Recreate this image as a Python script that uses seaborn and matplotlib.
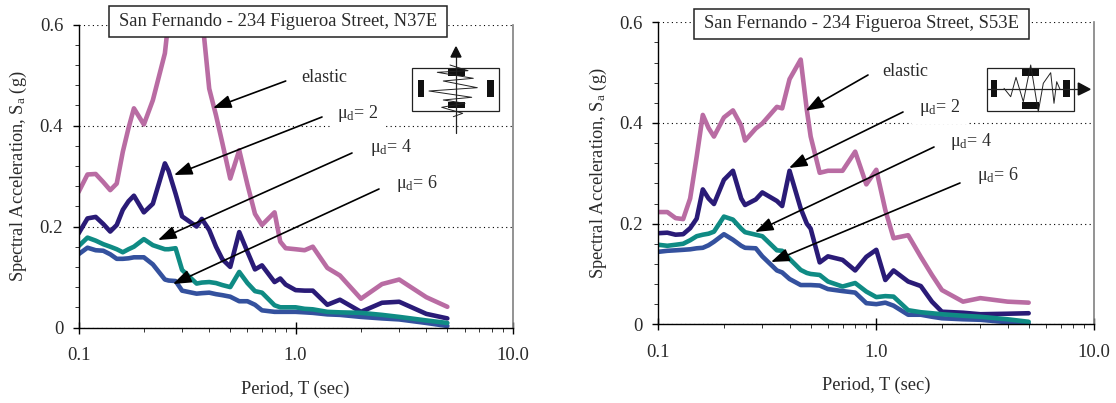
import pandas as pd
import seaborn as sns
import matplotlib.pyplot as plt
from matplotlib.patches import Rectangle
from matplotlib.ticker import FixedLocator, NullFormatter

W, H = 1116, 403

# Values
periods_n37e = [0.1, 0.11, 0.12, 0.13, 0.14, 0.15, 0.16, 0.17, 0.18, 0.2, 0.22, 0.25, 0.26, 0.28, 0.3, 0.35, 0.37,
                0.4, 0.43, 0.46, 0.5, 0.55, 0.6, 0.65, 0.7, 0.8, 0.85, 0.9, 1.0, 1.1, 1.2, 1.4, 1.6, 2.0, 2.5, 3.0, 4.0, 5.0]
elastic_n37e = [.268, .303, .304, .288, .272, .285, .348, .395, .434, .402, .45, .543, .61, .72, .76, .75, .62,
                .473, .42, .365, .295, .351, .283, .225, .203, .228, .17, .157, .155, .153, .16, .118, .103, .057, .086, .095, .06, .041]
mu2_n37e = [.186, .216, .219, .205, .19, .203, .233, .25, .261, .228, .245, .325, .31, .265, .22, .2, .215,
            .193, .16, .135, .12, .189, .15, .115, .123, .09, .097, .085, .074, .073, .073, .045, .055, .031, .049, .051, .027, .018]
mu4_n37e = [.161, .178, .172, .165, .16, .155, .149, .155, .16, .175, .163, .155, .155, .157, .114, .087, .089,
            .09, .088, .084, .08, .11, .088, .072, .069, .044, .04, .04, .04, .037, .036, .031, .03, .029, .025, .021, .014, .009]
mu6_n37e = [.145, .158, .153, .152, .145, .136, .136, .137, .139, .139, .125, .095, .093, .092, .073, .067, .068,
            .069, .066, .064, .061, .052, .052, .045, .034, .031, .031, .031, .031, .03, .029, .026, .025, .021, .018, .016, .009, .003]

periods_s53e = [0.1, 0.11, 0.12, 0.13, 0.14, 0.15, 0.16, 0.17, 0.18, 0.2, 0.22, 0.24, 0.25, 0.28, 0.3, 0.35, 0.37,
                0.4, 0.45, 0.48, 0.5, 0.55, 0.6, 0.7, 0.8, 0.9, 1.0, 1.1, 1.2, 1.4, 1.6, 1.8, 2.0, 2.5, 3.0, 4.0, 5.0]
elastic_s53e = [.223, .223, .211, .209, .25, .333, .416, .39, .373, .411, .425, .395, .365, .389, .399, .432, .429,
                .487, .526, .426, .373, .301, .305, .305, .343, .278, .307, .227, .171, .177, .134, .098, .068, .045, .052, .045, .043]
mu2_s53e = [.181, .182, .178, .179, .191, .21, .268, .25, .239, .287, .305, .25, .237, .248, .262, .245, .235,
            .305, .23, .2, .19, .123, .135, .128, .107, .134, .148, .088, .107, .085, .076, .045, .025, .023, .02, .021, .022]
mu4_s53e = [.158, .156, .158, .16, .167, .175, .178, .18, .184, .214, .208, .19, .183, .178, .175, .147, .146,
            .13, .108, .102, .1, .098, .085, .075, .082, .065, .054, .056, .055, .028, .024, .022, .02, .017, .015, .01, .005]
mu6_s53e = [.144, .146, .147, .148, .149, .151, .152, .157, .164, .179, .168, .156, .152, .151, .135, .107, .103,
            .09, .078, .078, .078, .077, .07, .066, .063, .042, .04, .043, .037, .019, .019, .015, .012, .01, .009, .004, .001]

series_names = ['elastic', 'mu2', 'mu6', 'mu4']
series_colors = ['#B96CA3', '#2A1B77', '#34519E', '#0F8B84']
y_ticks = [0, 0.2, 0.4, 0.6]
y_labels = ['0', '0.2', '0.4', '0.6']
x_ticks = [0.1, 1, 10]
x_labels = ['0.1', '1.0', '10.0']

sns.set_style('white')
plt.rcParams['font.family'] = ['Liberation Serif', 'DejaVu Sans']
plt.rcParams['mathtext.fontset'] = 'custom'
plt.rcParams['mathtext.rm'] = 'Liberation Serif'
plt.rcParams['mathtext.it'] = 'Liberation Serif'

fig = plt.figure(figsize=(W / 100, H / 100), dpi=100)
TEXT = '#2a2a2a'


def draw_panel(box, periods, elastic, mu2, mu4, mu6):
    left, right, top, bottom = box
    ax = fig.add_axes([left / W, 1 - bottom / H, (right - left) / W, (bottom - top) / H])
    frames = []
    for name, vals in zip(series_names, [elastic, mu2, mu6, mu4]):
        frames.append(pd.DataFrame({'period': periods, 'sa': vals, 'series': name}))
    df = pd.concat(frames)
    sns.lineplot(data=df, x='period', y='sa', hue='series', hue_order=series_names, palette=series_colors,
                 estimator=None, sort=False, linewidth=3.3, legend=False, ax=ax)
    ax.set_xscale('log')
    ax.set_xlim(0.1, 10)
    ax.set_ylim(0, 0.6)
    ax.set_xticks(x_ticks)
    ax.set_xticklabels(x_labels, fontsize=13.5, color=TEXT)
    ax.xaxis.set_minor_locator(FixedLocator([m * d for d in (0.1, 1) for m in range(2, 10)]))
    ax.xaxis.set_minor_formatter(NullFormatter())
    ax.set_yticks(y_ticks)
    ax.set_yticklabels(y_labels, fontsize=13.5, color=TEXT)
    ax.yaxis.set_minor_locator(FixedLocator([i * 0.04 for i in range(16)]))
    ax.tick_params(axis='x', which='major', direction='inout', length=8.6, width=1, color='black', pad=10, bottom=True)
    ax.tick_params(axis='y', which='major', length=4.5, width=1, color='black', pad=6.5, left=True)
    ax.tick_params(axis='x', which='minor', length=3, width=0.7, color='#333333', bottom=True)
    ax.tick_params(axis='y', which='minor', length=3, width=0.7, color='#333333', left=True)
    ax.grid(False)
    ax.yaxis.grid(True, which='major', color='black', linestyle=(0, (1, 3)), linewidth=0.8)
    ax.set_axisbelow(True)
    ax.set_xlabel('Period, T (sec)', fontsize=13.2, labelpad=11.5, color=TEXT)
    ax.set_ylabel('Spectral Acceleration, S$_{\\mathrm{a}}$ (g)', fontsize=13.2, labelpad=7.5, color=TEXT)
    for s in ['left', 'bottom']:
        ax.spines[s].set_color('black')
        ax.spines[s].set_linewidth(1)
    ax.spines['right'].set_color('#808080')
    ax.spines['right'].set_linewidth(1.2)
    ax.spines['top'].set_visible(False)
    return ax


ax1 = draw_panel((78.5, 512.7, 24.5, 327.5), periods_n37e, elastic_n37e, mu2_n37e, mu4_n37e, mu6_n37e)
ax2 = draw_panel((658.3, 1094.3, 22.3, 324.3), periods_s53e, elastic_s53e, mu2_s53e, mu4_s53e, mu6_s53e)

# overlay in picture pixels for the boxes, arrows and labels
ov = fig.add_axes([0, 0, 1, 1], zorder=5)
ov.set_xlim(0, W)
ov.set_ylim(H, 0)
ov.axis('off')
ov.patch.set_alpha(0)


def title_box(x0, x1, y0, y1, text):
    ov.add_patch(Rectangle((x0, y0), x1 - x0, y1 - y0, facecolor='white', edgecolor='#222222', linewidth=1.1, zorder=3))
    ov.text((x0 + x1) / 2, (y0 + y1) / 2, text, ha='center', va='center', fontsize=13.4, color=TEXT, zorder=4)


def arrow(x0, y0, x1, y1):
    ov.annotate('', xy=(x1, y1), xytext=(x0, y0), zorder=2,
                arrowprops=dict(arrowstyle='-|>,head_length=1.1,head_width=0.4', color='black', lw=1.2,
                                shrinkA=0, shrinkB=0))


def label(x, y, text, pad=0):
    bbox = dict(facecolor='white', edgecolor='none', pad=pad) if pad else None
    ov.text(x, y, text, ha='left', va='center', fontsize=13, color=TEXT, bbox=bbox, zorder=4)


MU = '\u03bc$_{\\mathrm{d}}$= '

title_box(109, 447, 6, 37, 'San Fernando - 234 Figueroa Street, N37E')
title_box(694, 1029, 9, 39, 'San Fernando - 234 Figueroa Street, S53E')

arrow(285.7, 81, 213, 108)
arrow(322, 117, 174, 175)
arrow(352, 153, 158, 240)
arrow(379, 189, 173, 284)
label(301, 77, 'elastic')
label(337, 114, MU + '2', pad=4)
label(370, 148, MU + '4')
label(396, 183, MU + '6')

arrow(868, 75, 805.7, 110.7)
arrow(903, 112, 789, 168)
arrow(934, 147, 755, 232)
arrow(960, 183, 771, 262)
label(882, 71, 'elastic')
label(919, 107, MU + '2', pad=5)
label(950, 141, MU + '4')
label(977, 176, MU + '6')


# small spring sketches
def icon(x0, x1, y0, y1, blocks, zig, line, head):
    ov.add_patch(Rectangle((x0, y0), x1 - x0, y1 - y0, facecolor='white', edgecolor='#222222', linewidth=0.9, zorder=3))
    for bx, by, bw, bh in blocks:
        ov.add_patch(Rectangle((bx, by), bw, bh, facecolor='#111111', edgecolor='none', zorder=4))
    ov.plot(*zip(*zig), color='#222222', lw=0.7, zorder=5)
    ov.plot(*zip(*line), color='#222222', lw=0.9, zorder=5)
    ov.fill(*zip(*head), color='#111111', zorder=5)


icon(412.3, 499, 67.7, 111,
     [(417.7, 80, 6.3, 16.7), (487.3, 80, 6.3, 16.7), (447.7, 69.3, 17.3, 6.7), (447.7, 101.7, 17.3, 6.7)],
     [(450, 65), (468, 70.7), (437.3, 72.3), (473.3, 78.3), (443.3, 81), (477.3, 87.7), (429, 91), (471.7, 97.3),
      (443.3, 100), (465, 103.3), (441.7, 107.3), (462.7, 113.3), (453.3, 116.7)],
     [(456, 132.7), (456, 56)],
     [(451, 57), (461, 57), (456, 47)])
icon(986.7, 1074.3, 68.3, 111,
     [(991, 80, 6.3, 16.7), (1063.3, 80, 6.3, 16.7), (1022.3, 69.3, 16.7, 6.7), (1022.3, 102, 16.7, 6.7)],
     [(1004, 88.3), (1010.7, 96.7), (1016, 77.3), (1023.3, 101.7), (1030.7, 65), (1038.3, 111.7), (1043.3, 83.3),
      (1050.7, 72.7), (1054, 103.3), (1056.7, 81.7), (1060, 89.3)],
     [(986.7, 89.3), (1080, 89.3)],
     [(1078.3, 83), (1078.3, 95), (1090, 89.3)])

fig.savefig('out.png', dpi=100)
